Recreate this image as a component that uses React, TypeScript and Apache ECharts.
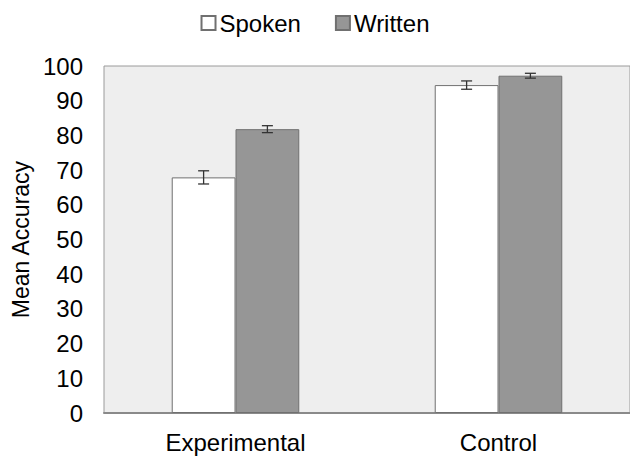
import React, { useEffect, useRef } from "react";
import * as echarts from "echarts";

const categories = ["Experimental", "Control"];
const seriesNames = ["Spoken", "Written"];
const spokenMeans = [67.9, 94.5];
const spokenErrors = [1.9, 1.2];
const writtenMeans = [81.8, 97.2];
const writtenErrors = [1.0, 0.7];
const yTicks = [0, 10, 20, 30, 40, 50, 60, 70, 80, 90, 100];

const FONT = "'Liberation Sans', Arial, sans-serif";

export default function App() {
  const ref = useRef<HTMLDivElement>(null);
  useEffect(() => {
    if (!ref.current) return;
    const chart = echarts.init(ref.current, undefined, { renderer: "svg" });
    const makeErr = (means: number[], errs: number[], side: number) => ({
      type: "custom",
      name: "err" + side,
      silent: true,
      z: 10,
      data: means.map((m, i) => [i, m, errs[i]]),
      renderItem: (params: any, api: any) => {
        const ci = api.value(0);
        const m = api.value(1);
        const e = api.value(2);
        const bw = api.size([1, 0])[0];
        const off = bw * 0.12125 * side;
        const top = api.coord([ci, m + e]);
        const bot = api.coord([ci, m - e]);
        const x = top[0] + off;
        const cap = 5.5;
        const style = { stroke: "#333333", lineWidth: 1.3 };
        return {
          type: "group",
          children: [
            { type: "line", shape: { x1: x, y1: top[1], x2: x, y2: bot[1] }, style },
            { type: "line", shape: { x1: x - cap, y1: top[1], x2: x + cap, y2: top[1] }, style },
            { type: "line", shape: { x1: x - cap, y1: bot[1], x2: x + cap, y2: bot[1] }, style },
          ],
        };
      },
    });
    chart.setOption({
      animation: false,
      textStyle: { fontFamily: FONT },
      legend: {
        data: seriesNames,
        top: 6,
        left: "center",
        itemWidth: 14,
        itemHeight: 14,
        itemGap: 34,
        icon: "rect",
        textStyle: { fontSize: 24, color: "#000", fontFamily: FONT, padding: [0, 0, 0, -1] },
      },
      grid: {
        left: 104,
        right: 0,
        top: 66,
        bottom: 43,
        show: true,
        backgroundColor: "#eeeeee",
        borderColor: "#9a9a9a",
        borderWidth: 1,
      },
      xAxis: {
        type: "category",
        data: categories,
        axisTick: { show: false },
        axisLine: { show: true, lineStyle: { color: "#8a8a8a", width: 2 } },
        axisLabel: { fontSize: 24, color: "#000", margin: 17, fontFamily: FONT },
      },
      yAxis: {
        type: "value",
        min: 0,
        max: 100,
        interval: 10,
        name: "Mean Accuracy",
        nameLocation: "middle",
        nameGap: 72,
        nameTextStyle: { fontSize: 23, color: "#000", fontFamily: FONT },
        axisLine: { show: false },
        axisTick: { show: false },
        splitLine: { show: false },
        axisLabel: {
          fontSize: 24,
          color: "#000",
          margin: 21,
          fontFamily: FONT,
          formatter: (v: number) => (yTicks.includes(v) ? String(v) : ""),
        },
      },
      series: [
        {
          name: seriesNames[0],
          type: "bar",
          data: spokenMeans,
          barGap: "0%",
          barCategoryGap: "51.5%",
          itemStyle: { color: "#ffffff", borderColor: "#707070", borderWidth: 1 },
        },
        {
          name: seriesNames[1],
          type: "bar",
          data: writtenMeans,
          barGap: "0%",
          barCategoryGap: "51.5%",
          itemStyle: { color: "#969696", borderColor: "#707070", borderWidth: 1 },
        },
        makeErr(spokenMeans, spokenErrors, -1),
        makeErr(writtenMeans, writtenErrors, 1),
      ],
    });
    return () => chart.dispose();
  }, []);
  return <div ref={ref} style={{ width: 630, height: 456, position: "absolute", left: 0, top: 0 }} />;
}
